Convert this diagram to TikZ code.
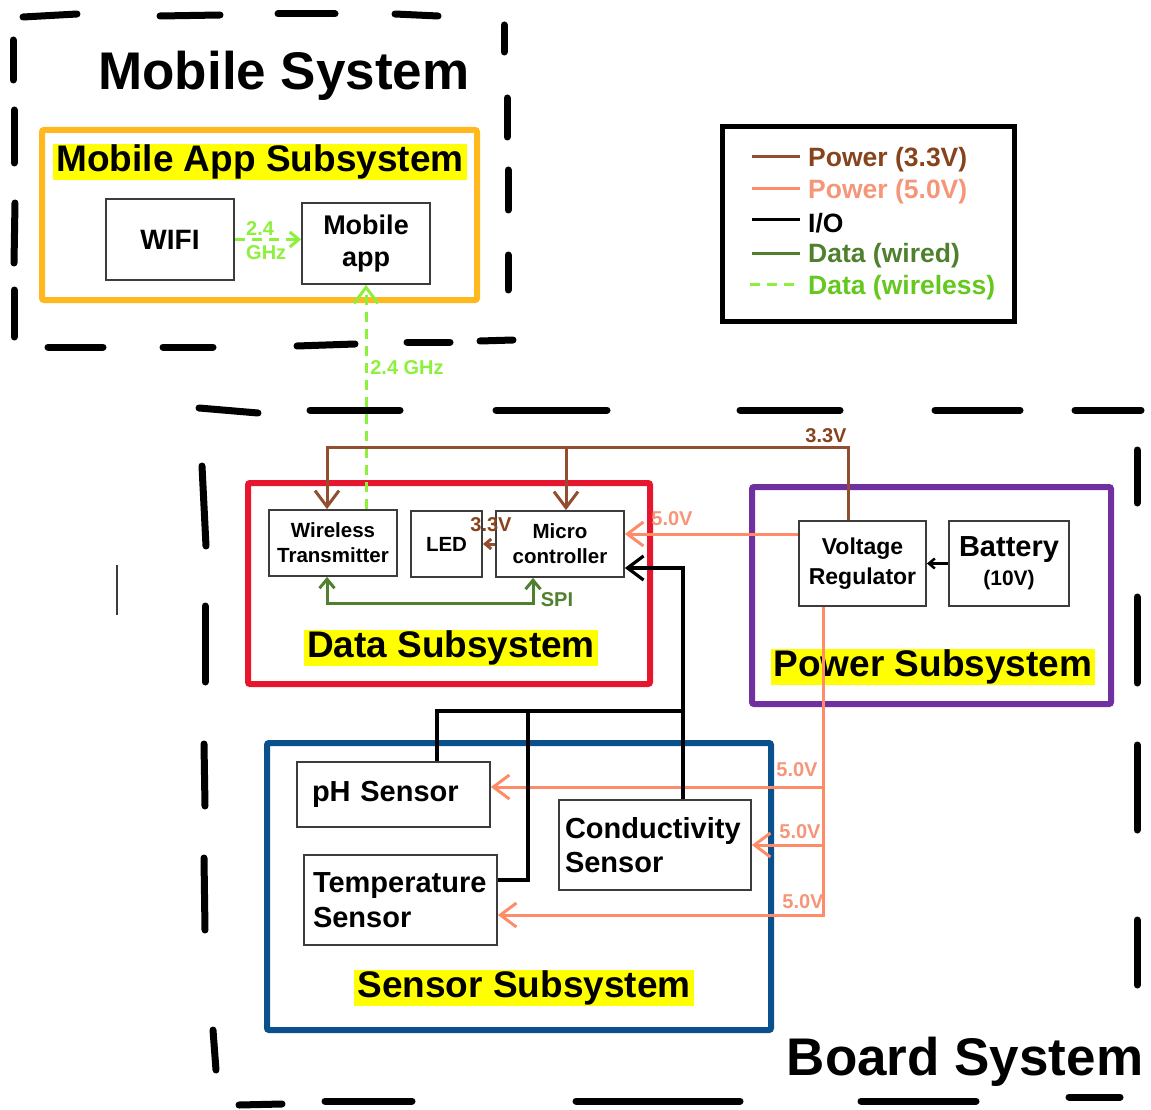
\documentclass[tikz,border=0pt]{standalone}
\usepackage{fontspec}
\setmainfont{Liberation Sans}
\usetikzlibrary{arrows.meta,calc}

\definecolor{pbrown}{RGB}{145,78,48}
\definecolor{pbrowntext}{RGB}{135,68,28}
\definecolor{psalmon}{RGB}{255,140,105}
\definecolor{psalmontext}{RGB}{245,150,120}
\definecolor{dgreen}{RGB}{78,128,46}
\definecolor{lgreen}{RGB}{140,240,60}
\definecolor{tgreen}{RGB}{100,200,30}
\definecolor{morange}{RGB}{255,185,30}
\definecolor{dred}{RGB}{230,22,46}
\definecolor{dpurple}{RGB}{112,48,160}
\definecolor{dblue}{RGB}{10,80,140}
\definecolor{boxgray}{RGB}{60,60,60}
\definecolor{hilite}{RGB}{255,255,0}

\begin{document}
\begin{tikzpicture}[x=1pt,y=-1pt,
  handdash/.style={draw=black, line width=7pt, line cap=round},
  subframe/.style={draw, line width=6pt, rounded corners=2pt, inner sep=0pt},
  blockbox/.style={draw=boxgray, line width=1.8pt, fill=white, inner sep=0pt, align=center, font=\bfseries},
  hilitelabel/.style={fill=hilite, inner xsep=3pt, inner ysep=1pt, font=\fontsize{37}{40}\selectfont\bfseries},
  titlelabel/.style={anchor=base, inner sep=0pt, font=\fontsize{53}{56}\selectfont\bfseries},
  smalllabel/.style={inner sep=0pt, font=\fontsize{20}{23}\selectfont\bfseries},
  legendtext/.style={anchor=west, inner sep=0pt, font=\fontsize{26.5}{28}\selectfont\bfseries},
  pow33/.style={draw=pbrown, line width=3pt},
  pow50/.style={draw=psalmon, line width=3pt},
  iolink/.style={draw=black, line width=3.2pt},
  spilink/.style={draw=dgreen, line width=3pt},
  wireless/.style={draw=lgreen, line width=3pt, dash pattern=on 10pt off 7pt},
  bigbarb/.tip={Straight Barb[length=16pt,width=24pt]},
  smallbarb/.tip={Straight Barb[length=6pt,width=10pt]},
  midbarb/.tip={Straight Barb[length=9pt,width=15pt]}
]
\useasboundingbox (0,0) rectangle (1151,1110);

% ---------------- system frames (hand-drawn dashes) ----------------
% Mobile System
\foreach \xa/\ya/\xb/\yb in {
    23/17/77/14, 160/16/220/15, 278/14/335/14, 395/14/438/16,
    504/25/504/52, 507/98/507/137, 508/170/508/210, 508/255/508/290,
    13/40/13/80, 14/110/14/163, 15/203/14/263, 14/290/14/337,
    48/347/103/347, 163/347/213/347, 297/346/355/344, 407/342/450/342, 480/341/513/340}
  \draw[handdash] (\xa,\ya) -- (\xb,\yb);
% Board System
\foreach \xa/\ya/\xb/\yb in {
    199/408/258/413, 310/410/400/410, 496/410/607/410, 740/410/840/410, 935/410/1020/410, 1075/410/1141/410,
    1137/450/1137/503, 1137/597/1137/683, 1137/745/1137/830, 1137/920/1137/985,
    202/466/206/546, 205/606/205/682, 204/744/205/806, 204/858/205/930, 213/1030/216/1070,
    239/1105/282/1104, 325/1101/412/1101, 576/1101/740/1101, 861/1101/976/1101, 1069/1097/1120/1097}
  \draw[handdash] (\xa,\ya) -- (\xb,\yb);

\node[titlelabel] (mobiletitle) at (284,90) {Mobile System};
\node[titlelabel] (boardtitle) at (965,1075) {Board System};
\draw[boxgray, line width=1.2pt] (117,565) -- (117,615);

% ---------------- legend ----------------
\node[draw=black, line width=5pt, minimum width=292pt, minimum height=194pt, inner sep=0pt] (legend) at (868,224) {};
\draw[pow33] (752,157) -- (800,157);
\node[legendtext, text=pbrowntext] (lg33) at (808,160) {Power (3.3V)};
\draw[pow50] (752,189) -- (800,189);
\node[legendtext, text=psalmontext] (lg50) at (808,192) {Power (5.0V)};
\draw[iolink, line width=3pt] (752,220) -- (800,220);
\node[legendtext] (lgio) at (808,223) {I/O};
\draw[spilink] (752,253) -- (800,253);
\node[legendtext, text=dgreen] (lgwired) at (808,256) {Data (wired)};
\draw[wireless] (750,284) -- (800,284);
\node[legendtext, text=tgreen] (lgwireless) at (808,288) {Data (wireless)};

% ---------------- subsystem frames ----------------
\node[subframe, draw=morange, minimum width=435pt, minimum height=170pt] (appsub) at (259.5,215) {};
\node[subframe, draw=dred, minimum width=402pt, minimum height=201pt] (datasub) at (449,583.5) {};
\node[subframe, draw=dpurple, minimum width=359pt, minimum height=217pt] (powersub) at (931.5,595.5) {};
\node[subframe, draw=dblue, minimum width=504pt, minimum height=287pt] (sensorsub) at (519,886.5) {};

\node[hilitelabel] (applabel) at (260,162) {Mobile App Subsystem};
\node[hilitelabel] (datalabel) at (451,648) {Data Subsystem};
\node[hilitelabel] (powerlabel) at (933,667) {Power Subsystem};
\node[hilitelabel] (sensorlabel) at (524,988) {Sensor Subsystem};

% ---------------- blocks ----------------
\node[blockbox, minimum width=128pt, minimum height=81pt, font=\fontsize{28}{32}\selectfont\bfseries] (wifi) at (170,239.5) {WIFI};
\node[blockbox, minimum width=128pt, minimum height=81pt, font=\fontsize{27}{32}\selectfont\bfseries] (app) at (366,243.5) {Mobile\\app};

\node[blockbox, minimum width=128pt, minimum height=66pt, font=\fontsize{20.5}{25}\selectfont\bfseries] (wt) at (333,543) {Wireless\\Transmitter};
\node[blockbox, minimum width=71pt, minimum height=66pt, font=\fontsize{20.5}{25}\selectfont\bfseries] (led) at (446.5,544) {LED};
\node[blockbox, minimum width=128pt, minimum height=66pt, font=\fontsize{20.5}{25}\selectfont\bfseries] (mcu) at (560,544) {Micro\\controller};

\node[blockbox, minimum width=127pt, minimum height=85pt, font=\fontsize{23}{30}\selectfont\bfseries] (vreg) at (862.5,563.5) {Voltage\\Regulator};
\node[blockbox, minimum width=120pt, minimum height=85pt, font=\fontsize{29}{31}\selectfont\bfseries] (batt) at (1009,563.5) {Battery\\[-2pt]{\fontsize{21}{24}\selectfont(10V)}};

\node[blockbox, minimum width=193pt, minimum height=65pt, align=left, text width=163pt, inner xsep=15pt, font=\fontsize{29}{33}\selectfont\bfseries] (ph) at (393.5,794.5) {pH Sensor};
\node[blockbox, minimum width=193pt, minimum height=90pt, align=left, text width=175pt, inner xsep=9pt, font=\fontsize{29}{35}\selectfont\bfseries] (temp) at (400.5,900) {Temperature\\Sensor};
\node[blockbox, minimum width=192pt, minimum height=90pt, align=left, text width=180pt, inner xsep=6pt, font=\fontsize{29}{34}\selectfont\bfseries] (cond) at (655,845) {Conductivity\\Sensor};

% ---------------- wireless data ----------------
\draw[wireless, -{midbarb[line width=3pt, sep=0pt]}] (wifi.east) -- (wifi.east -| app.west);
\node[smalllabel, text=lgreen, anchor=west, align=left, font=\fontsize{20}{24}\selectfont\bfseries] (wifilabel) at (246,241) {2.4\\GHz};
\draw[wireless, -{bigbarb[line width=3pt]}] (wt.north -| app.south) -- (app.south);
\node[smalllabel, text=lgreen] (linklabel) at (407,368) {2.4 GHz};

% ---------------- 3.3 V power ----------------
\coordinate (bus33) at ([xshift=-14.5pt, yshift=73pt]vreg.north);
\draw[pow33, -{bigbarb}] ([xshift=-14.5pt]vreg.north) -- (bus33) -| ([xshift=-6pt]wt.north);
\draw[pow33, -{bigbarb}] ([xshift=6pt]mcu.north |- bus33) -- ([xshift=6pt]mcu.north);
\node[smalllabel, text=pbrowntext] (lbl33) at (826,436) {3.3V};
\draw[pow33, -{smallbarb}] (mcu.west) -- (led.east);
\node[smalllabel, text=pbrowntext] (lblled) at (491,525) {3.3V};

% ---------------- 5.0 V power ----------------
\draw[pow50, -{bigbarb}] ([yshift=29.5pt]vreg.west) -- ([yshift=29.5pt]vreg.west -| mcu.east);
\node[smalllabel, text=psalmontext] (lblmcu50) at (672,519) {5.0V};
\coordinate (src50) at ([xshift=-39.5pt]vreg.south);
\draw[pow50, -{bigbarb}] (src50) |- ([yshift=-15pt]temp.east);
\draw[pow50, -{bigbarb}] (src50 |- ph.east) ++(0,-7.5) -- ([yshift=7.5pt]ph.east);
\draw[pow50, -{bigbarb}] (src50 |- cond.east) -- (cond.east);
\node[smalllabel, text=psalmontext] (lblph50) at (797,770) {5.0V};
\node[smalllabel, text=psalmontext] (lblcond50) at (800,832) {5.0V};
\node[smalllabel, text=psalmontext] (lbltemp50) at (803,902) {5.0V};

% ---------------- I/O ----------------
\draw[iolink, -{smallbarb[line width=2.5pt]}] (batt.west) -- (vreg.east);
\coordinate (iobus) at (683,711);
\coordinate (iotemp) at (528,711);
\draw[iolink, -{bigbarb}] ([xshift=28pt]cond.north) |- ([yshift=-24pt]mcu.east);
\draw[iolink] ([xshift=43.5pt]ph.north) |- (iobus);
\draw[iolink] ([yshift=20pt]temp.east) -| (iotemp);

% ---------------- SPI ----------------
\draw[spilink, {midbarb}-{midbarb}] ([xshift=-6pt]wt.south) -- ++(0,27) -| ([xshift=-27pt]mcu.south);
\node[smalllabel, text=dgreen] (lblspi) at (557,600) {SPI};

\end{tikzpicture}
\end{document}
